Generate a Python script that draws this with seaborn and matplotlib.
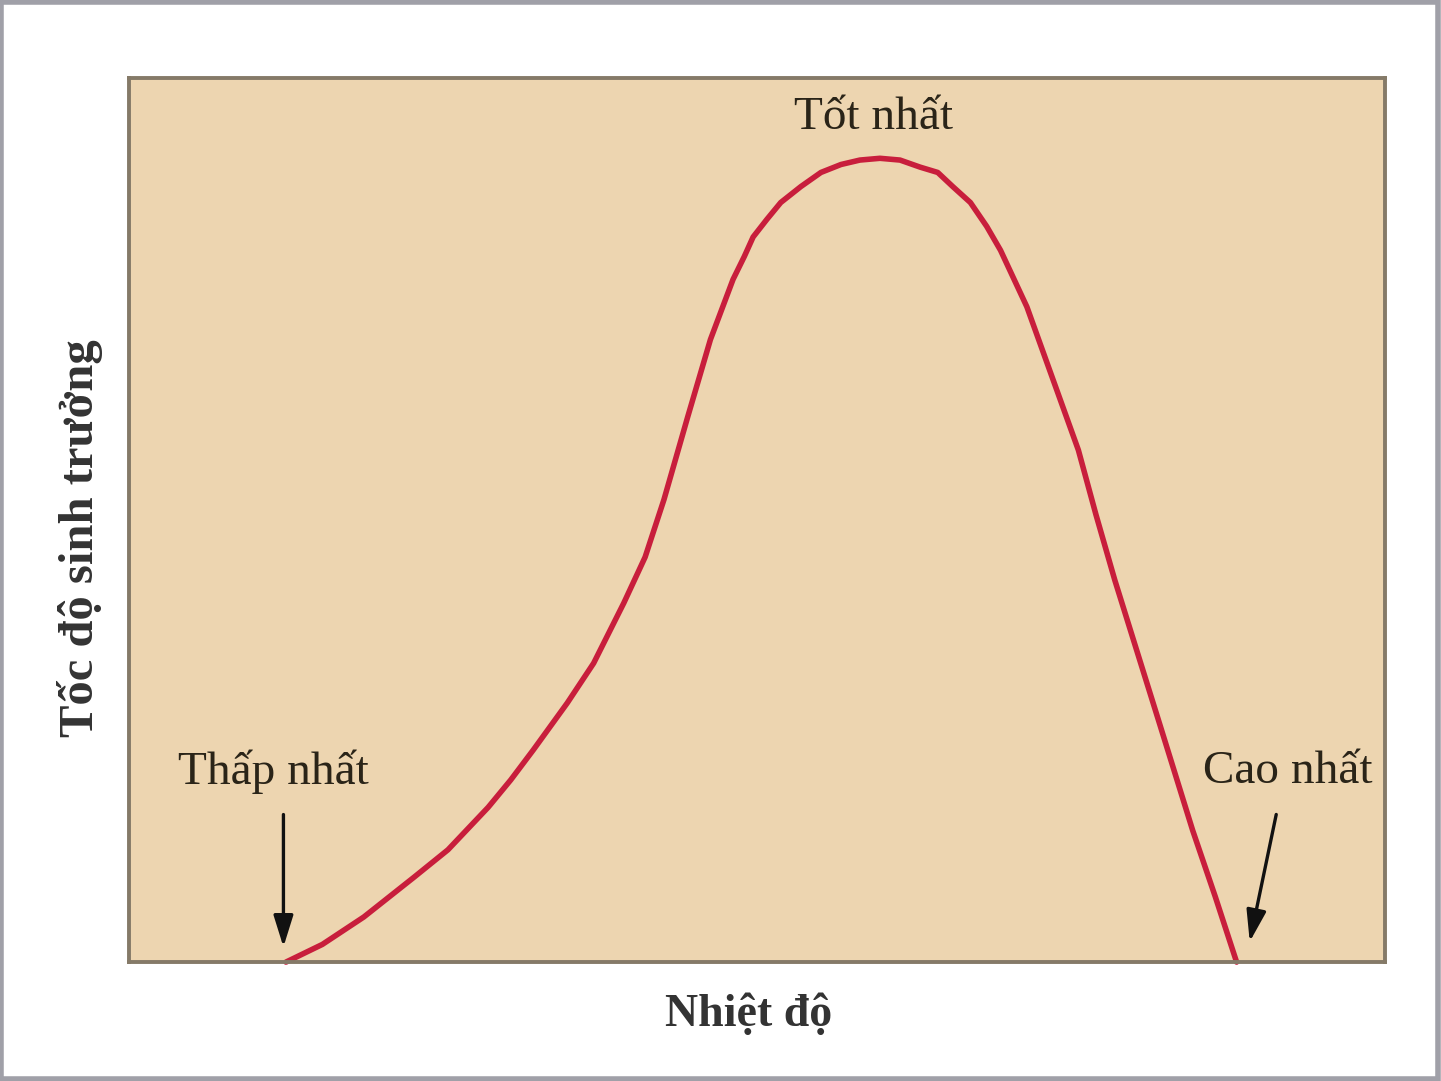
import seaborn as sns
import pandas as pd
import matplotlib.pyplot as plt
from matplotlib.patches import Rectangle

# nhiệt độ (trục x, đơn vị tương đối) và tốc độ sinh trưởng (trục y)
nhiet_do = [12.5, 15.4, 18.7, 22.7, 25.4, 28.6, 30.4, 32.2, 34.9, 37.0,
            39.4, 41.1, 42.6, 44.5, 46.3, 48.1, 49.0, 49.7, 50.8, 51.9,
            53.5, 55.1, 56.7, 58.2, 59.8, 61.4, 63.0, 64.4, 65.6, 67.0,
            68.3, 69.4, 71.5, 73.6, 75.6, 77.0, 78.5, 80.3, 82.1, 84.7,
            86.5, 88.2]
toc_do = [0.0, 2.0, 5.1, 9.6, 12.7, 17.5, 20.6, 24.0, 29.3, 33.8,
          40.6, 45.8, 52.3, 61.7, 70.4, 77.2, 79.8, 82.0, 84.0, 85.9,
          87.7, 89.3, 90.2, 90.7, 90.9, 90.7, 89.9, 89.3, 87.7, 85.9,
          83.2, 80.5, 74.1, 65.8, 57.9, 50.6, 43.2, 35.0, 26.8, 14.9,
          7.4, 0.0]

nhan_diem = ["Thấp nhất", "Tốt nhất", "Cao nhất"]

df = pd.DataFrame({"nhiet_do": nhiet_do, "toc_do": toc_do})

sns.set_theme(style="white")
plt.rcParams['font.family'] = ['Liberation Serif', 'DejaVu Serif']

fig = plt.figure(figsize=(14.41, 10.81), dpi=100)
ax = fig.add_axes([0.0895, 0.110, 0.8715, 0.818])
ax.set_facecolor("#EDD5B0")

sns.lineplot(data=df, x="nhiet_do", y="toc_do", ax=ax, color="#C81E3C",
             linewidth=4, sort=False, solid_joinstyle="round",
             solid_capstyle="round", clip_on=False)

ax.set_xlim(0, 100)
ax.set_ylim(0, 100)
ax.set_xticks([])
ax.set_yticks([])
for s in ax.spines.values():
    s.set_color("#857A68")
    s.set_linewidth(2.8)

ax.set_xlabel("Nhiệt độ", fontsize=33, fontweight="bold", color="#333333")
ax.set_ylabel("Tốc độ sinh trưởng", fontsize=35, fontweight="bold",
              color="#333333")
# vị trí nhãn trục giống ảnh gốc
ax.xaxis.set_label_coords(0.493, -0.035, transform=ax.transAxes)
ax.yaxis.set_label_coords(-0.021, 0.48, transform=ax.transAxes)

txt_color = "#2A2418"
ax.text(59.3, 95.5, nhan_diem[1], ha="center", va="center", fontsize=34,
        color=txt_color)
ax.text(11.5, 21.5, nhan_diem[0], ha="center", va="center", fontsize=34,
        color=txt_color)
ax.text(92.3, 21.5, nhan_diem[2], ha="center", va="center", fontsize=34,
        color=txt_color)

# mũi tên chỉ vào điểm thấp nhất và cao nhất
arrow = dict(arrowstyle="-|>,head_length=1.6,head_width=0.5", color="#111111",
             lw=2.4)
ax.annotate("", xy=(12.3, 1.4), xytext=(12.3, 17.0), arrowprops=arrow)
ax.annotate("", xy=(89.2, 2.0), xytext=(91.4, 17.0), arrowprops=arrow)

# khung viền xám quanh ảnh
fig.patches.append(Rectangle((0.001, 0.002), 0.997, 0.996,
                             transform=fig.transFigure, fill=False,
                             edgecolor="#A0A0A8", linewidth=4))

plt.savefig("out.png", dpi=100)
plt.close()
